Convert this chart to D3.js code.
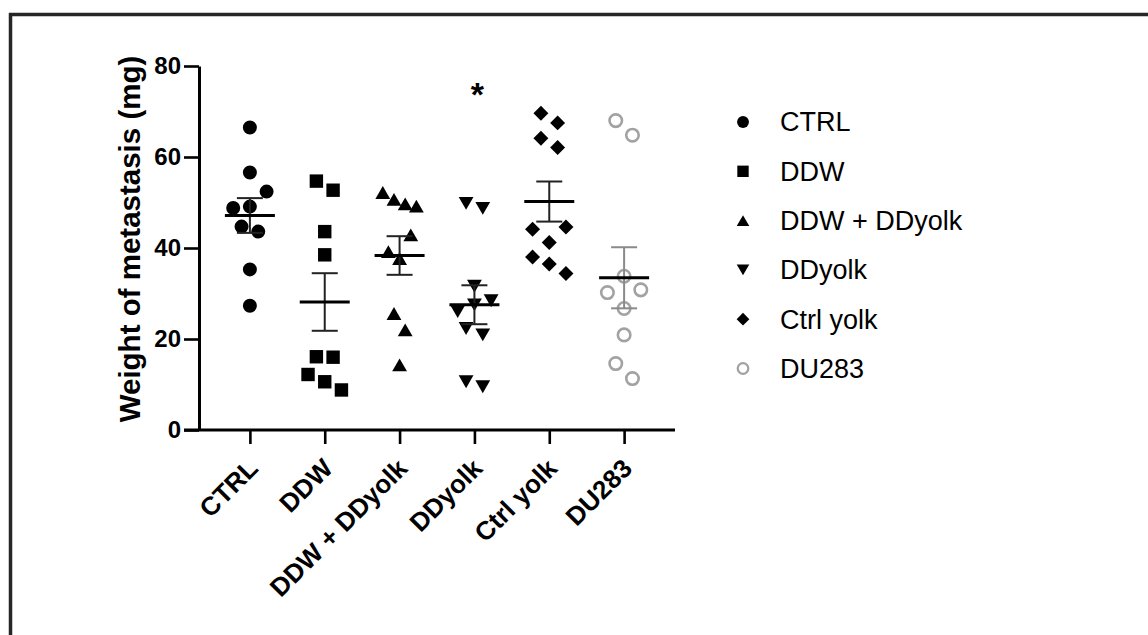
<!DOCTYPE html>
<html>
<head>
<meta charset="utf-8">
<script src="https://cdn.jsdelivr.net/npm/d3@7"></script>
<style>
  body { margin: 0; background: #fff; }
  svg { display: block; font-family: "Liberation Sans", Arial, sans-serif; }
</style>
</head>
<body>
<div id="chart"></div>
<script>
// groups on the x axis
const categories = ["CTRL", "DDW", "DDW + DDyolk", "DDyolk", "Ctrl yolk", "DU283"];

// weights of metastasis (mg), per mouse
const ctrl = [66.5, 56.6, 49.1, 52.4, 48.8, 44.7, 43.6, 35.3, 27.3];
const ddw = [54.7, 52.7, 43.6, 38.5, 16.1, 16.0, 10.6, 8.8, 12.2];
const ddwDdyolk = [50.7, 49.7, 52.2, 49.2, 37.7, 42.9, 39.2, 25.6, 22.0, 14.3];
const ddyolk = [27.5, 28.4, 26.0, 31.6, 22.3, 20.9, 49.8, 48.7, 10.6, 9.5];
const ctrlYolk = [69.6, 67.5, 64.1, 62.1, 41.2, 44.6, 44.1, 36.5, 34.4, 38.0];
const du283 = [68.0, 64.8, 33.8, 26.7, 30.8, 30.2, 20.9, 14.6, 11.3];

const yTicks = [0, 20, 40, 60, 80];
const significance = ["", "", "", "*", "", ""];

const series = [ctrl, ddw, ddwDdyolk, ddyolk, ctrlYolk, du283];

// marker shapes, centred on their bounding box
const shapes = {
  circle: d3.symbolCircle,
  square: d3.symbolSquare,
  diamond: { draw(ctx, size) {
    const r = Math.sqrt(size / 2);
    ctx.moveTo(0, -r); ctx.lineTo(r, 0); ctx.lineTo(0, r); ctx.lineTo(-r, 0); ctx.closePath();
  }},
  triUp: { draw(ctx, size) {
    const s = Math.sqrt(size * 4 / Math.sqrt(3)), h = s * Math.sqrt(3) / 2;
    ctx.moveTo(0, -h / 2); ctx.lineTo(s / 2, h / 2); ctx.lineTo(-s / 2, h / 2); ctx.closePath();
  }},
  triDown: { draw(ctx, size) {
    const s = Math.sqrt(size * 4 / Math.sqrt(3)), h = s * Math.sqrt(3) / 2;
    ctx.moveTo(0, h / 2); ctx.lineTo(s / 2, -h / 2); ctx.lineTo(-s / 2, -h / 2); ctx.closePath();
  }}
};

const styles = [
  {shape: "circle", size: 154, fill: "#000", stroke: "none", bar: "#222", spacing: 16.7, gap: 17},
  {shape: "square", size: 180, fill: "#000", stroke: "none", bar: "#222", spacing: 16.7, gap: 17},
  {shape: "triUp", size: 95, fill: "#000", stroke: "none", bar: "#222", spacing: 11.2, gap: 26},
  {shape: "triDown", size: 95, fill: "#000", stroke: "none", bar: "#222", spacing: 16.7, gap: 17},
  {shape: "diamond", size: 112, fill: "#000", stroke: "none", bar: "#222", spacing: 16.7, gap: 17},
  {shape: "circle", size: 122, fill: "none", stroke: "#a2a2a2", bar: "#8a8a8a", spacing: 16.7, gap: 17}
];

const width = 1148, height = 635;

const svg = d3.select("#chart").append("svg")
  .attr("width", width)
  .attr("height", height);

// frame (only top and left edges are visible)
svg.append("line").attr("x1", 9).attr("x2", width).attr("y1", 14.5).attr("y2", 14.5)
  .attr("stroke", "#262626").attr("stroke-width", 3.5);
svg.append("line").attr("x1", 10.5).attr("x2", 10.5).attr("y1", 13).attr("y2", height)
  .attr("stroke", "#262626").attr("stroke-width", 3.5);

const y = d3.scaleLinear().domain([0, 80]).range([430, 66]);
const x = d3.scalePoint().domain(categories).range([199, 675]).padding(0.68);

// swarm layout: greedy slots, then each clump centred on its column
function swarm(values, spacing, gap) {
  const py = values.map(v => y(v));
  const slots = [];
  const parent = values.map((_, i) => i);
  const find = i => parent[i] === i ? i : (parent[i] = find(parent[i]));
  values.forEach((v, i) => {
    const hit = k => d3.range(i).filter(j => slots[j] === k && Math.abs(py[j] - py[i]) < gap);
    hit(0).forEach(j => { parent[find(j)] = find(i); });
    let k = 0;
    for (let step = 1; hit(k).length; step++) k = step % 2 ? (step + 1) / 2 : -step / 2;
    slots[i] = k;
  });
  const shift = new Map();
  d3.group(d3.range(values.length), find).forEach((idx, key) => {
    const ext = d3.extent(idx, i => slots[i]);
    shift.set(key, (ext[0] + ext[1]) / 2);
  });
  return values.map((v, i) => (slots[i] - shift.get(find(i))) * spacing);
}

// y axis
const yAxis = svg.append("g")
  .attr("transform", "translate(199,0)")
  .call(d3.axisLeft(y).tickValues(yTicks).tickSize(15).tickSizeOuter(0).tickPadding(3));
yAxis.select(".domain").attr("stroke", "#000").attr("stroke-width", 3);
yAxis.selectAll(".tick line").attr("stroke", "#000").attr("stroke-width", 2.6);
yAxis.selectAll(".tick text")
  .attr("fill", "#000")
  .style("font-size", "24px")
  .style("font-weight", "bold")
  .style("font-family", "'Liberation Sans', Arial, sans-serif");

// x axis
const xAxis = svg.append("g")
  .attr("transform", "translate(0,430)")
  .call(d3.axisBottom(x).tickSize(14).tickSizeOuter(0));
xAxis.select(".domain").attr("stroke", "#000").attr("stroke-width", 3)
  .attr("d", "M184,0H675");
xAxis.selectAll(".tick line").attr("stroke", "#000").attr("stroke-width", 2.6);
xAxis.selectAll(".tick text")
  .attr("y", 0).attr("dy", 0).attr("x", 0)
  .attr("text-anchor", "end")
  .attr("transform", "translate(9,40) rotate(-45)")
  .attr("fill", "#000")
  .style("font-size", "26px")
  .style("font-weight", "bold")
  .style("font-family", "'Liberation Sans', Arial, sans-serif");

// y axis title
svg.append("text")
  .attr("transform", "translate(140,239) rotate(-90)")
  .attr("text-anchor", "middle")
  .style("font-size", "29.5px")
  .style("font-weight", "bold")
  .text("Weight of metastasis (mg)");

// points, mean and SEM per group
categories.forEach((cat, gi) => {
  const vals = series[gi];
  const st = styles[gi];
  const cx = x(cat);
  const offsets = swarm(vals, st.spacing, st.gap);
  const g = svg.append("g");

  g.selectAll("path.pt")
    .data(vals)
    .join("path")
    .attr("class", "pt")
    .attr("transform", (d, i) => `translate(${cx + offsets[i]},${y(d)})`)
    .attr("d", d3.symbol().type(shapes[st.shape]).size(st.size))
    .attr("fill", st.fill)
    .attr("stroke", st.stroke)
    .attr("stroke-width", st.stroke === "none" ? 0 : 2.6);

  const mean = d3.mean(vals);
  const sem = d3.deviation(vals) / Math.sqrt(vals.length);

  g.append("line")
    .attr("x1", cx).attr("x2", cx)
    .attr("y1", y(mean + sem)).attr("y2", y(mean - sem))
    .attr("stroke", st.bar).attr("stroke-width", 2);
  [mean + sem, mean - sem].forEach(v => {
    g.append("line")
      .attr("x1", cx - 13).attr("x2", cx + 13)
      .attr("y1", y(v)).attr("y2", y(v))
      .attr("stroke", st.bar).attr("stroke-width", 2);
  });
  g.append("line")
    .attr("x1", cx - 25).attr("x2", cx + 25)
    .attr("y1", y(mean)).attr("y2", y(mean))
    .attr("stroke", "#000").attr("stroke-width", 3);

  if (significance[gi]) {
    svg.append("text")
      .attr("x", cx + 3)
      .attr("y", y(75) + 17)
      .attr("text-anchor", "middle")
      .style("font-size", "34px")
      .style("font-weight", "bold")
      .text(significance[gi]);
  }
});

// legend
const legend = svg.append("g").attr("transform", "translate(743,122)");
const rows = legend.selectAll("g")
  .data(categories)
  .join("g")
  .attr("transform", (d, i) => `translate(0,${i * 49.3})`);
rows.append("path")
  .attr("d", (d, i) => d3.symbol().type(shapes[styles[i].shape]).size(styles[i].size * 0.72)())
  .attr("fill", (d, i) => styles[i].fill)
  .attr("stroke", (d, i) => styles[i].stroke)
  .attr("stroke-width", (d, i) => styles[i].stroke === "none" ? 0 : 2.2);
rows.append("text")
  .attr("x", 37)
  .attr("dy", "0.35em")
  .style("font-size", "27px")
  .text(d => d);
</script>
</body>
</html>
